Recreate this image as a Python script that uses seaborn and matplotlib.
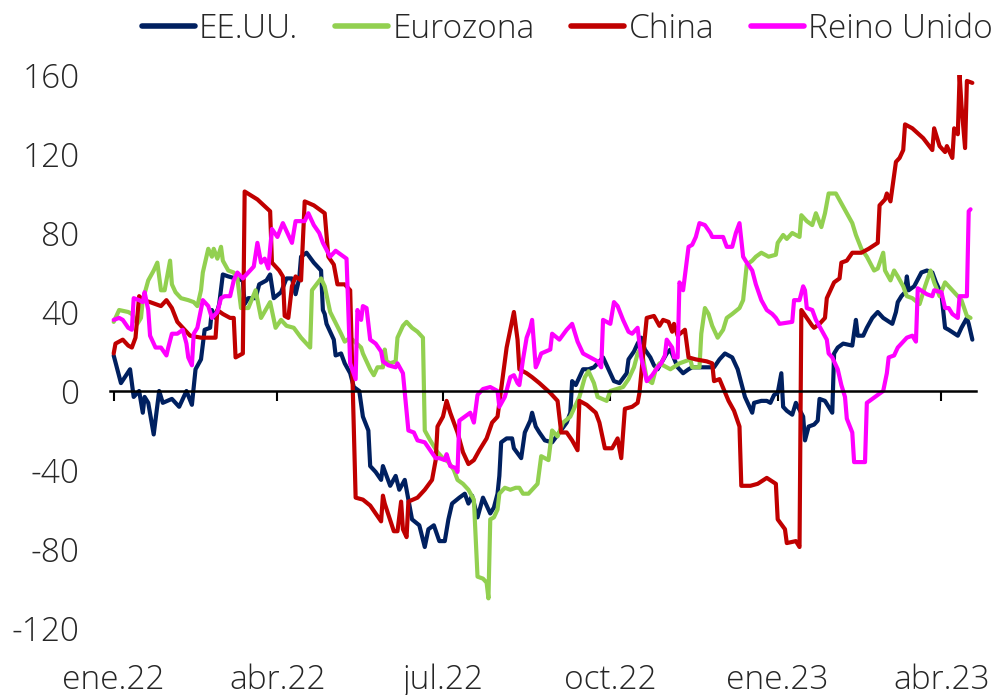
import pandas as pd
import numpy as np
import seaborn as sns
import matplotlib.pyplot as plt
import matplotlib.dates as mdates
import matplotlib.transforms as mtransforms

# Días contados desde el 1 de enero de 2022 y valor de cada serie
eeuu_dias = [0, 4, 9, 11, 14, 16, 17, 19, 22, 25, 27, 32, 36, 40, 43, 45, 48, 50, 53, 54, 56, 58, 60, 63, 67,
             71, 72, 74, 78, 80, 84, 86, 88, 92, 95, 98, 100, 102, 103, 106, 110, 112, 114, 115, 116, 117,
             121, 122, 125, 127, 130, 132, 135, 137, 140, 141, 144, 147, 148, 152, 155, 157, 160, 164, 168,
             171, 173, 176, 179, 182, 184, 186, 190, 193, 195, 197, 200, 203, 207, 209, 211, 212, 213, 216,
             219, 220, 224, 226, 229, 230, 232, 234, 237, 241, 245, 249, 251, 252, 254, 258, 261, 264, 269,
             272, 275, 278, 282, 283, 286, 288, 290, 292, 295, 297, 299, 304, 306, 310, 313, 316, 318, 324,
             330, 333, 336, 340, 343, 345, 347, 348, 351, 352, 356, 359, 361, 363, 365, 367, 368, 370, 373,
             375, 379, 380, 382, 385, 387, 388, 391, 393, 395, 396, 398, 401, 406, 408, 409, 412, 414, 417,
             420, 423, 428, 430, 431, 433, 435, 436, 437, 440, 444, 447, 450, 452, 455, 457, 459, 464, 466,
             469, 470, 472]
eeuu_vals = [18, 4, 11, -3, 0, -11, -3, -6, -22, 0, -6, -4, -8, 0, -7, 11, 16, 31, 32, 41, 37, 44, 59, 58, 57,
             56, 44, 47, 47, 54, 56, 59, 47, 50, 57, 57, 49, 57, 68, 70, 65, 63, 61, 41, 39, 34,
             26, 18, 19, 14, 9, 2, 0, -13, -20, -38, -41, -45, -38, -48, -43, -50, -45, -65, -68,
             -79, -70, -68, -76, -76, -65, -57, -54, -52, -57, -53, -64, -54, -62, -59, -52, -43, -26, -24,
             -24, -29, -34, -21, -15, -11, -18, -21, -25, -26, -21, -16, -11, 5, 3, 11, 11, 12, 17,
             11, 5, 4, 9, 16, 20, 24, 27, 21, 17, 13, 11, 19, 21, 12, 9, 11, 12, 12,
             12, 16, 19, 17, 11, 4, -3, -5, -11, -6, -5, -5, -6, -2, -1, 9, -8, -10, -12,
             -6, -13, -25, -18, -17, -15, -4, -5, -8, -11, 19, 22, 24, 23, 36, 28, 28, 32, 37,
             40, 37, 34, 40, 45, 48, 50, 58, 51, 53, 60, 61, 60, 55, 49, 32, 31, 28, 32,
             37, 34, 26]

euro_dias = [0, 3, 8, 10, 13, 15, 16, 19, 22, 24, 26, 28, 30, 31, 32, 34, 37, 41, 44, 46, 48, 49, 52, 54, 55,
             57, 59, 60, 63, 66, 68, 70, 74, 78, 81, 86, 89, 92, 95, 99, 103, 108, 109, 114, 116, 119, 125,
             127, 130, 136, 137, 141, 143, 145, 148, 149, 150, 152, 155, 156, 159, 161, 164, 167, 170, 171,
             174, 176, 178, 181, 184, 187, 189, 192, 195, 198, 200, 203, 205, 206, 207, 209, 211, 212, 215,
             218, 221, 223, 225, 228, 233, 235, 239, 241, 244, 247, 251, 256, 259, 261, 264, 266, 271, 273,
             280, 283, 286, 288, 290, 293, 296, 298, 300, 306, 311, 317, 318, 322, 323, 325, 327, 329, 332,
             335, 337, 340, 344, 346, 348, 351, 353, 356, 360, 364, 365, 368, 370, 373, 377, 378, 381, 384,
             386, 389, 391, 393, 397, 400, 403, 406, 408, 411, 414, 418, 420, 423, 424, 427, 429, 431, 434,
             436, 439, 443, 446, 449, 451, 454, 457, 459, 463, 466, 469, 471]
euro_vals = [35, 41, 40, 39, 34, 37, 46, 56, 61, 65, 51, 51, 61, 66, 54, 50, 47, 46, 45, 43, 51, 60, 72, 68, 72,
             67, 73, 66, 61, 60, 57, 42, 42, 51, 37, 45, 32, 36, 33, 32, 27, 22, 51, 57, 53, 40, 29,
             25, 27, 22, 19, 11, 8, 12, 12, 21, 15, 14, 15, 27, 33, 35, 32, 30, 27, -20,
             -25, -28, -31, -34, -36, -40, -45, -47, -50, -55, -94, -95, -97, -105, -65, -64, -60, -52, -49,
             -50, -49, -49, -52, -52, -47, -33, -35, -20, -23, -16, -13, -3, 7, 10, 4, -3, -5, 0,
             2, 6, 12, 19, 22, 6, 4, 11, 14, 11, 14, 16, 12, 12, 29, 42, 39, 33, 27,
             31, 37, 39, 42, 46, 64, 66, 68, 70, 68, 69, 75, 79, 77, 80, 78, 89, 86, 84,
             90, 83, 90, 100, 100, 95, 90, 85, 79, 72, 68, 61, 62, 70, 61, 56, 61, 58, 53,
             48, 47, 44, 53, 61, 55, 48, 55, 53, 49, 46, 38, 37]

china_dias = [0, 1, 5, 8, 10, 12, 14, 16, 20, 26, 29, 32, 35, 38, 42, 48, 56, 57, 60, 64, 66, 67, 71, 72, 79,
              86, 87, 91, 93, 94, 96, 98, 100, 103, 105, 110, 116, 118, 121, 123, 127, 130, 133, 137, 141,
              144, 147, 148, 149, 154, 156, 158, 159, 161, 162, 167, 171, 175, 177, 178, 181, 183, 185, 187,
              189, 192, 195, 198, 201, 205, 208, 211, 213, 216, 220, 222, 223, 227, 230, 234, 240, 244, 246,
              249, 252, 255, 256, 260, 265, 267, 270, 274, 277, 279, 281, 285, 288, 289, 293, 297, 300, 302,
              305, 307, 308, 310, 314, 316, 320, 326, 329, 330, 333, 338, 341, 344, 345, 350, 354, 359, 364,
              365, 369, 370, 375, 377, 378, 381, 384, 385, 388, 391, 392, 396, 399, 400, 403, 406, 411, 415,
              420, 421, 424, 425, 427, 430, 432, 434, 435, 439, 445, 450, 451, 454, 457, 458, 461, 462, 464,
              465, 466, 468, 469, 472]
china_vals = [19, 24, 26, 23, 22, 27, 48, 46, 45, 43, 46, 42, 35, 32, 28, 27, 27, 41, 39, 37, 37, 17, 19, 101, 97,
              91, 65, 61, 58, 38, 37, 53, 58, 56, 96, 94, 90, 68, 64, 54, 54, 51, -54, -55, -58,
              -62, -66, -53, -57, -71, -71, -56, -70, -74, -56, -54, -50, -45, -35, -18, -13, -5, -11, -16,
              -21, -31, -37, -35, -30, -24, -16, -13, 1, 22, 40, 26, 11, 9, 7, 4, -1, -5, -21,
              -21, -25, -30, -5, -7, -11, -16, -29, -29, -24, -34, -9, -8, -6, -1, 37, 38, 33, 36,
              35, 30, 34, 28, 31, 17, 16, 15, 14, 5, 6, -5, -10, -18, -48, -48, -47, -44, -47,
              -65, -70, -77, -76, -79, 41, 37, 33, 32, 34, 37, 47, 55, 57, 65, 66, 70, 70, 72,
              75, 94, 97, 100, 96, 116, 118, 122, 135, 133, 128, 122, 133, 124, 121, 124, 118, 133, 130,
              160, 145, 123, 157, 156]

ru_dias = [0, 3, 5, 8, 10, 11, 14, 16, 17, 19, 20, 23, 26, 29, 30, 32, 35, 38, 40, 41, 43, 44, 46, 49, 52,
           54, 57, 59, 61, 64, 66, 68, 71, 74, 77, 79, 81, 83, 85, 87, 90, 93, 95, 98, 100, 105, 107, 110,
           113, 115, 119, 122, 125, 128, 130, 133, 134, 136, 137, 139, 141, 144, 147, 148, 151, 155, 156,
           159, 162, 165, 167, 171, 174, 177, 179, 182, 183, 185, 188, 189, 190, 193, 196, 198, 199, 200,
           203, 207, 211, 212, 215, 218, 220, 222, 223, 225, 227, 229, 230, 232, 233, 235, 240, 241, 245,
           249, 252, 255, 258, 262, 266, 268, 269, 273, 275, 277, 280, 283, 285, 288, 290, 293, 296, 299,
           301, 303, 304, 307, 308, 310, 311, 313, 316, 318, 320, 322, 325, 328, 329, 335, 337, 340, 342,
           344, 346, 348, 351, 353, 356, 359, 362, 364, 366, 373, 374, 377, 379, 380, 381, 384, 386, 389,
           392, 393, 395, 398, 400, 402, 403, 406, 407, 410, 413, 414, 417, 420, 423, 425, 426, 429, 431,
           434, 436, 439, 441, 442, 447, 450, 451, 455, 457, 459, 461, 464, 465, 469, 470, 471]
ru_vals = [36, 37, 36, 32, 31, 47, 46, 45, 50, 41, 28, 22, 22, 18, 22, 29, 29, 31, 24, 17, 13, 29, 32, 46, 43,
           37, 40, 47, 48, 48, 56, 60, 57, 60, 63, 75, 65, 67, 62, 82, 78, 85, 81, 75, 86, 86, 90, 84,
           80, 75, 68, 71, 69, 67, 14, 6, 41, 36, 43, 42, 26, 24, 20, 15, 13, 12, 14,
           9, -20, -21, -25, -26, -30, -34, -34, -35, -32, -38, -39, -41, -15, -13, -11, -16, -9, -2,
           1, 2, 0, -8, -3, 7, 8, 4, 3, 16, 27, 32, 36, 12, 14, 19, 21, 29, 26,
           31, 34, 25, 19, 17, 15, 12, 36, 34, 45, 43, 36, 30, 29, 32, 17, 5, 8, 12,
           14, 18, 26, 22, 17, 17, 55, 51, 73, 74, 78, 85, 84, 80, 78, 78, 73, 73, 80,
           85, 68, 65, 61, 54, 46, 41, 39, 37, 34, 35, 46, 46, 53, 51, 42, 41, 36, 31,
           26, 19, 17, 11, 3, -3, -14, -21, -36, -36, -36, -6, -4, -2, 0, 9, 17, 18, 22,
           25, 27, 28, 25, 52, 49, 48, 51, 50, 42, 42, 39, 37, 48, 48, 91, 92]

series = ['EE.UU.', 'Eurozona', 'China', 'Reino Unido']
colores = ['#002060', '#92D050', '#C00000', '#FF00FF']
meses = ['2022-01-01', '2022-04-01', '2022-07-01', '2022-10-01', '2023-01-01', '2023-04-01']
etiquetas_meses = ['ene.22', 'abr.22', 'jul.22', 'oct.22', 'ene.23', 'abr.23']
yticks = [-120, -80, -40, 0, 40, 80, 120, 160]

inicio = pd.Timestamp('2022-01-01')
partes = []
for nombre, dias, vals in zip(series,
                              [eeuu_dias, euro_dias, china_dias, ru_dias],
                              [eeuu_vals, euro_vals, china_vals, ru_vals]):
    partes.append(pd.DataFrame({'fecha': inicio + pd.to_timedelta(dias, unit='D'),
                                'valor': vals, 'serie': nombre}))
df = pd.concat(partes, ignore_index=True)

sns.set_style('white')
plt.rcParams['font.family'] = ['Open Sans', 'DejaVu Sans']
plt.rcParams['font.weight'] = 'light'

fig = plt.figure(figsize=(10.04, 6.95), dpi=100)
ax = fig.add_axes([0.1096, 0.0964, 0.8625, 0.7957])

sns.lineplot(data=df, x='fecha', y='valor', hue='serie', hue_order=series,
             palette=dict(zip(series, colores)), estimator=None, linewidth=3,
             ax=ax)

handles, labels = ax.get_legend_handles_labels()
ax.get_legend().remove()
for h in handles:
    h.set_linewidth(4)
fig.legend(handles, labels, loc='center', bbox_to_anchor=(0.565, 0.958), ncol=4,
           frameon=False, fontsize=24, handlelength=1.6, handletextpad=0.12,
           columnspacing=1.1)

ax.set_ylim(-120, 160)
ax.set_xlim(inicio - pd.Timedelta(days=2), inicio + pd.Timedelta(days=474))
ax.set_yticks(yticks)
ax.set_yticklabels([str(v) for v in yticks], fontsize=24)
ax.tick_params(axis='y', left=False, length=0, pad=22)

fechas_meses = pd.to_datetime(meses)
ax.set_xticks(fechas_meses)
ax.tick_params(axis='x', bottom=True, direction='out', length=7, width=1.5,
               labelbottom=False, color='black')
trans = mtransforms.blended_transform_factory(ax.transData, ax.transAxes)
for f, et in zip(fechas_meses, etiquetas_meses):
    ax.text(mdates.date2num(f), -0.094, et, transform=trans, ha='center', va='center', fontsize=24)

for lado in ['left', 'right', 'top']:
    ax.spines[lado].set_visible(False)
ax.spines['bottom'].set_position(('data', 0))
ax.spines['bottom'].set_color('black')
ax.spines['bottom'].set_linewidth(1.8)
ax.set_xlabel('')
ax.set_ylabel('')
ax.grid(False)

fig.savefig('out.png', dpi=100)
